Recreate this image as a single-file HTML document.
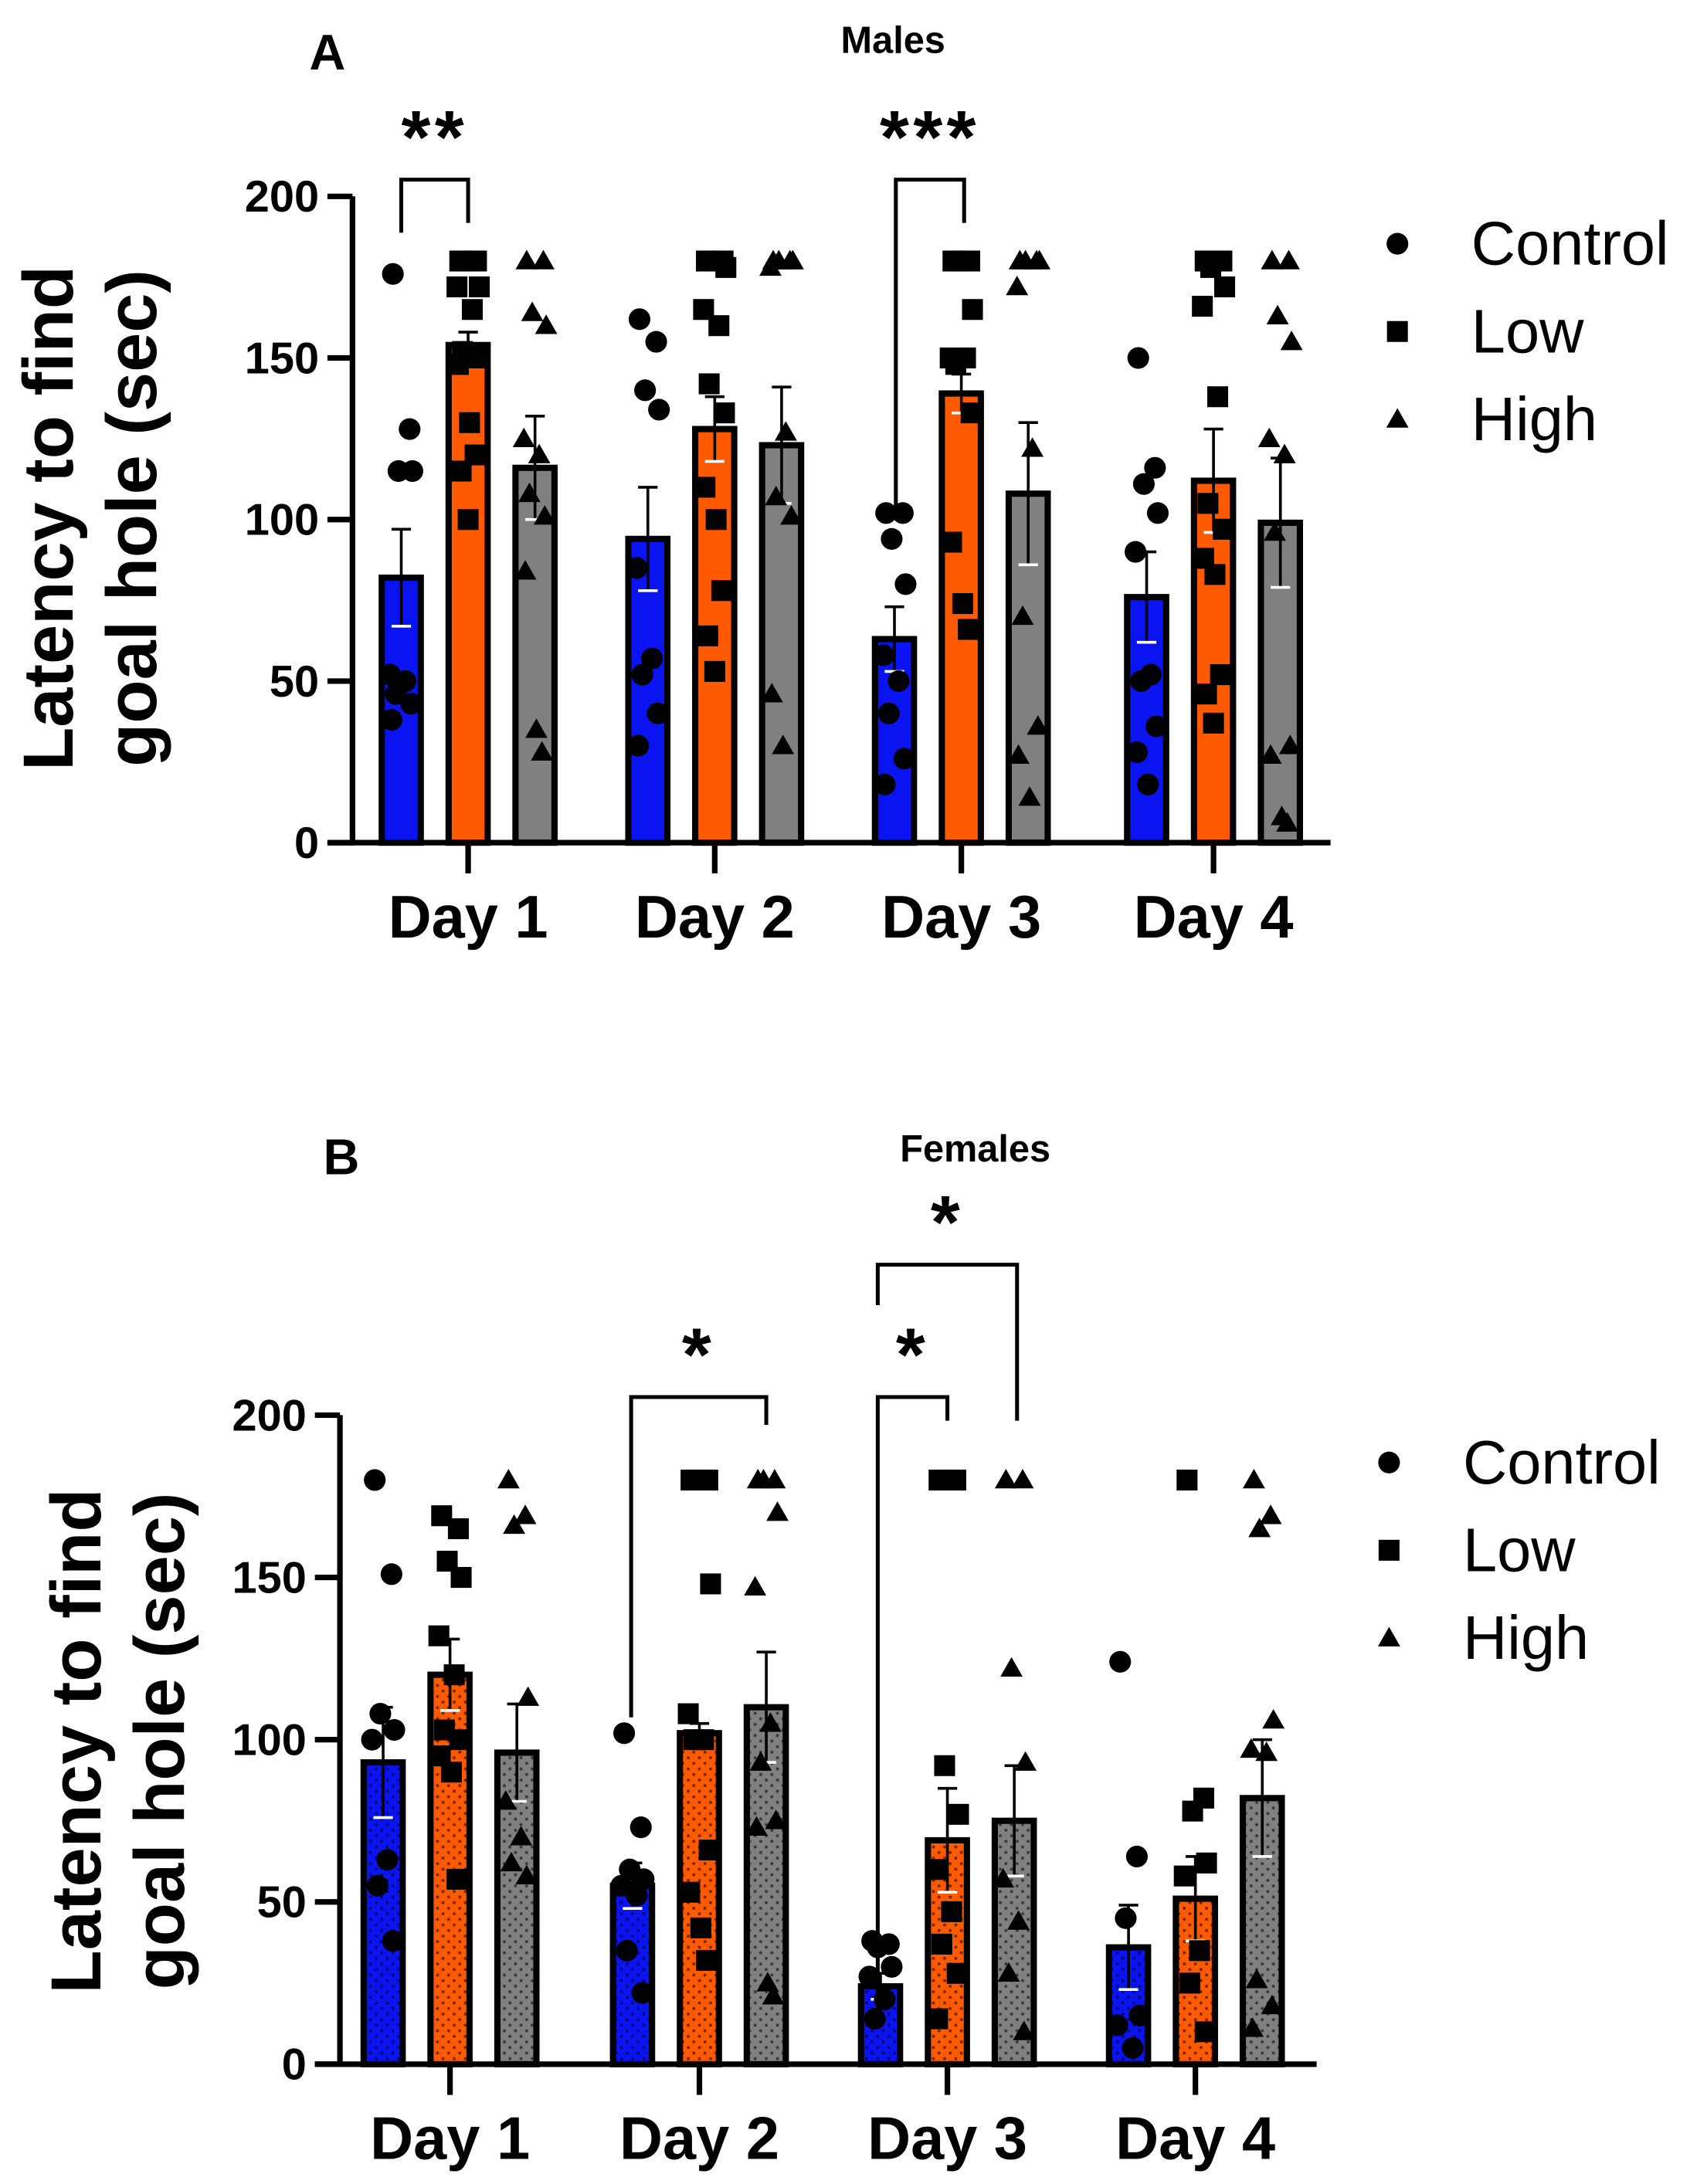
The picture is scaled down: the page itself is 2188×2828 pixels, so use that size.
<!DOCTYPE html>
<html><head><meta charset="utf-8"><style>
html,body{margin:0;padding:0;background:#fff}
svg{display:block}
text{font-family:"Liberation Sans",Arial,sans-serif}
</style></head><body>
<svg id="fig" width="2188" height="2828" viewBox="0 0 1213 1568" preserveAspectRatio="none" xmlns="http://www.w3.org/2000/svg">
<defs>
<pattern id="pat" width="8" height="8" patternUnits="userSpaceOnUse">
<circle cx="2" cy="2" r="1.1" fill="#000" opacity="0.55"/><circle cx="6" cy="6" r="1.1" fill="#000" opacity="0.55"/>
</pattern>
</defs>
</svg>
<script>
const days=["Day 1","Day 2","Day 3","Day 4"];
const groups=["Control","Low","High"];
const yTicks=[0,50,100,150,200];
// Males
const mMeans=[[82,154,116],[94,128,123],[63,139,108],[76,112,99]];
const mSem=[[15,4,16],[16,10,18],[10,6,22],[14,16,20]];
const mPts=[
[[176,128,115,115,52,50,46,43,38],[180,180,180,172,172,165,152,150,148,130,120,115,100],[180,180,164,160,125,120,108,101,84,35,28]],
[[162,155,140,134,85,57,52,40,30],[180,180,180,178,165,160,142,133,110,100,78,64,53],[180,180,180,180,178,127,107,101,46,30]],
[[102,102,94,80,58,50,40,26,18],[180,180,180,165,150,150,148,133,93,74,66],[180,180,180,180,172,122,70,36,27,14]],
[[150,116,111,102,90,52,50,36,28,18],[180,180,178,172,166,138,105,97,88,83,52,46,37],[180,180,163,155,125,120,96,30,27,8,6]]];
// Females
const fMeans=[[93,120,96],[55,102,110],[24,69,75],[36,51,82]];
const fSem=[[17,11,15],[7,3,17],[4,16,17],[13,13,18]];
const fPts=[
[[180,151,108,103,100,63,55,38],[169,165,155,150,132,120,103,100,95,90,57],[180,169,166,113,81,70,62,58]],
[[102,73,60,57,55,52,35,22],[180,180,180,148,108,100,100,66,53,42,32],[180,180,180,170,147,105,93,75,73,25,21]],
[[38,37,36,30,27,20,14],[180,180,92,77,60,47,37,28,14],[180,180,122,93,57,44,28,10]],
[[124,64,45,15,12,5],[180,82,78,62,58,35,25,10],[180,169,165,106,97,96,26,18,11]]];

const NS="http://www.w3.org/2000/svg";
const svg=document.getElementById('fig');
const colors=["#0a14f0","#ff5a00","#808080"];
function mk(tag,at,parent){const e=document.createElementNS(NS,tag);for(const k in at)e.setAttribute(k,at[k]);(parent||svg).appendChild(e);return e;}
function txt(s,at,parent){const e=mk('text',at,parent);e.textContent=s;return e;}
function marker(g,k,x,y,parent){
  if(g===0)return mk('circle',{cx:x,cy:y,r:7.8,fill:'#000'},parent);
  if(g===1)return mk('rect',{x:x-7.5,y:y-7.5,width:15,height:15,fill:'#000'},parent);
  return mk('polygon',{points:`${x},${y-8} ${x-8},${y+6} ${x+8},${y+6}`,fill:'#000'},parent);
}
const jit=[-6,6,-2,8,-8,3,-4,7,-7,1,5,-5,0];

function panel(P){
  const root=mk('g',{});
  
  
  const y=v=>P.y0-(v/200)*(P.y0-P.y200);
  const xg=(d,g)=>P.cx[d]+(g-1)*48;
  for(let d=0;d<4;d++)for(let g=0;g<3;g++){
    const m=P.means[d][g],s=P.sem[d][g],x=xg(d,g);
    const b=mk('rect',{x:x-14,y:y(m),width:28,height:P.y0-y(m),fill:colors[g],stroke:'#000','stroke-width':4.5},root);
    
    
    if(P.pattern){const pb=mk('rect',{x:x-12,y:y(m)+2,width:24,height:P.y0-y(m)-2,fill:'url(#pat)'},root);
      }
    const e=mk('g',{stroke:'#000','stroke-width':2},root);
    
    mk('line',{x1:x,x2:x,y1:y(m+s),y2:y(m-s)},e);
    mk('line',{x1:x-7,x2:x+7,y1:y(m+s),y2:y(m+s)},e);
    mk('line',{x1:x-7,x2:x+7,y1:y(m-s),y2:y(m-s),stroke:'#fff'},e);
    P.pts[d][g].forEach((v,i)=>{const p=marker(g,0,x+jit[i%jit.length],y(v),root);
      });
  }
  const ax=mk('g',{stroke:'#000','stroke-width':4,fill:'none'},root);
  
  mk('line',{x1:P.ax,x2:P.ax,y1:P.y200,y2:P.y0+2},ax);
  mk('line',{x1:P.ax-18,x2:P.xend,y1:P.y0,y2:P.y0},ax);
  yTicks.forEach(t=>{
    mk('line',{x1:P.ax-18,x2:P.ax,y1:y(t),y2:y(t)},ax);
    const l=txt(String(t),{x:P.ax-24,y:y(t)+11,'font-size':32,'font-weight':'bold','text-anchor':'end'},root);
    
  });
  days.forEach((dname,d)=>{
    mk('line',{x1:P.cx[d],x2:P.cx[d],y1:P.y0,y2:P.y0+22},ax);
    const l=txt(dname,{x:P.cx[d],y:P.y0+68,'font-size':43,'font-weight':'bold','text-anchor':'middle'},root);
    
  });
  const yt=mk('g',{transform:`translate(${P.ytx},${P.yty}) rotate(-90)`},root);
  
  txt('Latency to find',{x:0,y:0,'font-size':51,'font-weight':'bold','text-anchor':'middle'},yt);
  txt('goal hole (sec)',{x:0,y:60,'font-size':51,'font-weight':'bold','text-anchor':'middle'},yt);
  const pl=txt(P.letter,{x:P.lx,y:P.ly,'font-size':36,'font-weight':'bold'},root);
  
  const ti=txt(P.title,{x:P.tx,y:P.ty,'font-size':27,'font-weight':'bold','text-anchor':'middle'},root);
  
  groups.forEach((gn,g)=>{
    const lg=mk('g',{},root);
    
    marker(g,0,P.legx,P.legy+g*63,lg);
    txt(gn,{x:P.legx+53,y:P.legy+g*63+15,'font-size':44},lg);
  });
  P.brackets.forEach(b=>{
    const bg=mk('g',{},root);
    
    mk('polyline',{points:`${b[0]},${b[1]} ${b[0]},${b[2]} ${b[3]},${b[2]} ${b[3]},${b[4]}`,fill:'none',stroke:'#000','stroke-width':2.8},bg);
    txt(b[5],{x:(b[0]+b[3])/2,y:b[2]+2,'font-size':54,'font-weight':'bold','text-anchor':'middle','letter-spacing':3},bg).setAttribute('dy','-14');
  });
}
panel({name:'males-chart',means:mMeans,sem:mSem,pts:mPts,pattern:false,ax:253,y0:605,y200:141,xend:955,
  cx:[336,513,690,871],ytx:52,yty:372,letter:'A',lx:222,ly:50,title:'Males',tx:641,ty:38,legx:1003,legy:175,
  brackets:[[288,167,129,336,160,'**'],[643,365,129,692,160,'***']]});
panel({name:'females-chart',means:fMeans,sem:fSem,pts:fPts,pattern:true,ax:244,y0:1482,y200:1016,xend:945,
  cx:[323,502,680,858],ytx:72,yty:1250,letter:'B',lx:232,ly:843,title:'Females',tx:700,ty:834,legx:997,legy:1050,
  brackets:[[453,1233,1003,550,1023,'*'],[630,1447,1003,680,1020,'*'],[630,937,908,730,1020,'*']]});
</script>
</body></html>
